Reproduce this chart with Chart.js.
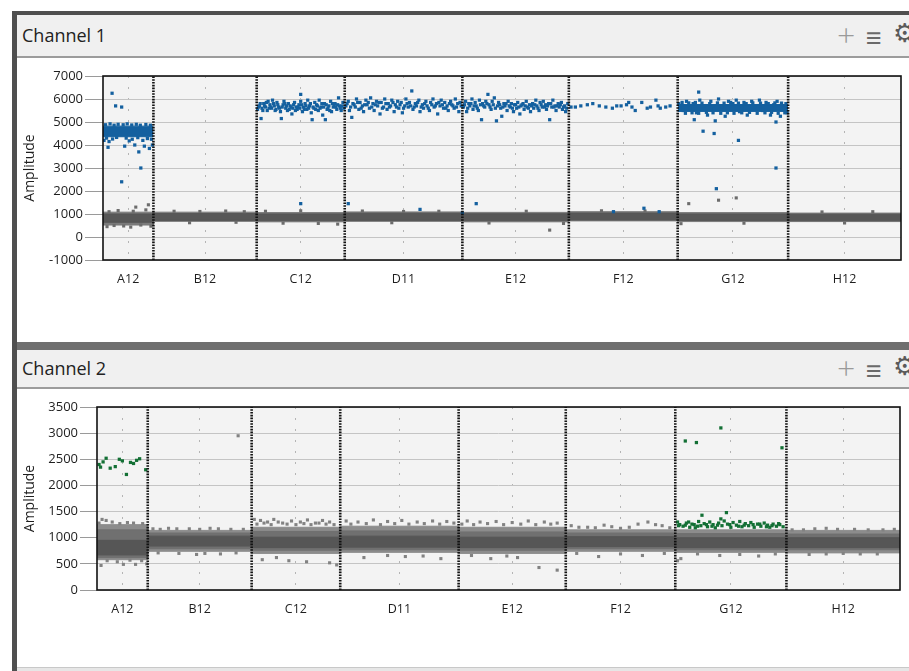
<!DOCTYPE html>
<html>
<head>
<meta charset="utf-8">
<script src="https://cdn.jsdelivr.net/npm/chart.js@4.4.1/dist/chart.umd.min.js"></script>
<style>
  body { margin: 0; width: 909px; height: 671px; overflow: hidden; background: #fff; position: relative; font-family: "Open Sans", sans-serif; }
  .frame-left { position: absolute; left: 12px; top: 11px; width: 5px; bottom: 0; background: #4f4f4f; }
  .frame-top { position: absolute; left: 12px; right: 0; top: 11px; height: 4px; background: #4f4f4f; }
  .head { position: absolute; left: 17px; right: 0; background: #f0f0f0; border-bottom: 2px solid #9c9c9c; }
  .head .t { position: absolute; left: 5px; font-size: 18px; color: #222; }
  .icon { position: absolute; color: #9a9a9a; }
  .sep { position: absolute; left: 17px; right: 0; top: 342px; height: 8px; background: #6f6f6f; }
  .foot { position: absolute; left: 17px; right: 0; top: 667px; height: 4px; background: #e6e6e6; border-top: 1px solid #c8c8c8; }
  canvas { position: absolute; }
</style>
</head>
<body>
<div class="frame-top"></div>
<div class="frame-left"></div>

<div class="head" style="top:15px;height:41px;">
  <span class="t" style="top:8px;">Channel 1</span>
  <span class="icon" style="left:820px;top:-2px;font-size:32px;font-weight:300;">+</span>
  <span class="icon" style="left:849px;top:3px;font-size:27px;color:#6a6a6a;">≡</span>
  <span class="icon" style="left:876px;top:3px;font-size:26px;color:#5a5a5a;font-family:'DejaVu Sans';">⚙</span>
</div>
<canvas id="ch1" width="891" height="282" style="left:18px;top:60px;"></canvas>

<div class="sep"></div>
<div class="head" style="top:350px;height:37px;">
  <span class="t" style="top:6px;">Channel 2</span>
  <span class="icon" style="left:820px;top:-4px;font-size:32px;font-weight:300;">+</span>
  <span class="icon" style="left:849px;top:1px;font-size:27px;color:#6a6a6a;">≡</span>
  <span class="icon" style="left:876px;top:1px;font-size:26px;color:#5a5a5a;font-family:'DejaVu Sans';">⚙</span>
</div>
<canvas id="ch2" width="891" height="277" style="left:18px;top:390px;"></canvas>
<div class="foot"></div>

<script>
// wells and how many droplets each one read (sets the width of each well on the x axis)
const wells = ["A12", "B12", "C12", "D11", "E12", "F12", "G12", "H12"];
const wellEvents = [6300, 12900, 11000, 14700, 13300, 13600, 13800, 14100];

// y axis ticks
const ch1YTicks = [-1000, 0, 1000, 2000, 3000, 4000, 5000, 6000, 7000];
const ch2YTicks = [0, 500, 1000, 1500, 2000, 2500, 3000, 3500];

// negative droplet clouds: amplitude range per well (outer fringe and dense core)
const ch1OuterLow = [520, 680, 660, 680, 660, 700, 670, 670];
const ch1OuterHigh = [1080, 1080, 1060, 1090, 1070, 1100, 1060, 1040];
const ch1CoreLow = [640, 720, 710, 720, 710, 740, 720, 710];
const ch1CoreHigh = [1000, 1020, 1000, 1030, 1010, 1040, 1000, 990];

const ch2OuterLow = [580, 740, 700, 720, 700, 740, 720, 710];
const ch2OuterHigh = [1250, 1140, 1200, 1220, 1200, 1150, 1150, 1140];
const ch2MidLow = [620, 790, 760, 770, 760, 790, 770, 770];
const ch2MidHigh = [1150, 1090, 1120, 1130, 1110, 1090, 1080, 1070];
const ch2CoreLow = [670, 840, 810, 820, 810, 830, 810, 810];
const ch2CoreHigh = [950, 1030, 1010, 1030, 1010, 1020, 1000, 1000];

// dense positive clouds in channel 1: [well, low, high]
const ch1PosBands = [[0, 4360, 4820], [6, 5460, 5760]];

// single droplets: [well, % along the well, amplitude]
const ch1Positive = [
  [0,18,6250],[0,25,5700],[0,37,5650],[0,37,2400],[0,75,3000],[0,10,3900],[0,43,3950],[0,63,4000],[0,71,3700],[0,92,3850],
  [0,2,4200],[0,98,4000],[0,82,3950],[0,5,4880],[0,14,4920],[0,22,4860],[0,30,4900],[0,40,4880],[0,48,4920],[0,57,4870],
  [0,66,4900],[0,74,4860],[0,85,4890],[0,94,4860],[0,7,4300],[0,19,4260],[0,27,4330],[0,46,4300],[0,58,4250],[0,69,4320],
  [0,88,4280],[0,96,4250],[0,12,4150],[0,52,4180],[0,79,4200],
  [2,1,5550],[2,3,5700],[2,5,5150],[2,6,5600],[2,8,5800],[2,10,5650],[2,12,5500],[2,13,5900],[2,15,5750],[2,17,5600],
  [2,18,5950],[2,20,5700],[2,22,5550],[2,23,5850],[2,25,5650],[2,27,5450],[2,28,5150],[2,30,5750],[2,31,5900],[2,33,5600],
  [2,35,5500],[2,36,5800],[2,38,5700],[2,40,5350],[2,41,5600],[2,43,5850],[2,45,5650],[2,46,5550],[2,48,5750],[2,50,6200],
  [2,50,5900],[2,52,5450],[2,53,5650],[2,55,5800],[2,57,5550],[2,58,5950],[2,60,5700],[2,62,5400],[2,63,5100],[2,65,5600],
  [2,66,5850],[2,68,5750],[2,70,5500],[2,71,5950],[2,73,5650],[2,75,5300],[2,77,5800],[2,78,5100],[2,80,5550],[2,82,5700],
  [2,84,5900],[2,85,5450],[2,87,5650],[2,89,5800],[2,91,5550],[2,93,6050],[2,94,5700],[2,96,5500],[2,98,5850],[2,99,5600],
  [2,2,5650],[2,4,5800],[2,7,5500],[2,9,5700],[2,11,5850],[2,14,5600],[2,16,5650],[2,19,5800],[2,21,5500],[2,24,5750],
  [2,26,5600],[2,29,5650],[2,32,5800],[2,34,5700],[2,37,5550],[2,39,5650],[2,42,5750],[2,44,5500],[2,47,5650],[2,49,5600],
  [2,51,5750],[2,54,5550],[2,56,5700],[2,59,5600],[2,61,5800],[2,64,5650],[2,67,5550],[2,69,5700],[2,72,5600],[2,74,5800],
  [2,76,5650],[2,79,5750],[2,81,5600],[2,83,5500],[2,86,5800],[2,88,5700],[2,90,5650],[2,92,5750],[2,95,5600],[2,97,5700],
  [2,50,1450],
  [3,1,5700],[3,3,5900],[3,4,5500],[3,6,5200],[3,7,5800],[3,9,5650],[3,10,6000],[3,12,5550],[3,13,5850],[3,15,5700],
  [3,16,5450],[3,18,5950],[3,19,5750],[3,21,5600],[3,22,6050],[3,24,5800],[3,25,5500],[3,27,5900],[3,28,5700],[3,30,5350],
  [3,31,5850],[3,33,5650],[3,34,6000],[3,36,5550],[3,37,5800],[3,39,5700],[3,40,5950],[3,42,5450],[3,43,5750],[3,45,5900],
  [3,46,5600],[3,48,5850],[3,49,5400],[3,51,5700],[3,52,6000],[3,54,5650],[3,55,5850],[3,57,6350],[3,58,5550],[3,60,5800],
  [3,61,5700],[3,63,5950],[3,64,5450],[3,66,5750],[3,67,5600],[3,69,5900],[3,70,5700],[3,72,5500],[3,73,5850],[3,75,6000],
  [3,76,5650],[3,78,5800],[3,79,5350],[3,81,5700],[3,82,5950],[3,84,5600],[3,85,5850],[3,87,5700],[3,88,5500],[3,90,5900],
  [3,91,5750],[3,93,5600],[3,94,6000],[3,96,5800],[3,97,5450],[3,99,5700],
  [3,2,5800],[3,5,5650],[3,8,5750],[3,11,5850],[3,14,5600],[3,17,5750],[3,20,5850],[3,23,5650],[3,26,5750],[3,29,5850],
  [3,32,5600],[3,35,5800],[3,38,5650],[3,41,5850],[3,44,5650],[3,47,5750],[3,50,5600],[3,53,5800],[3,56,5700],[3,59,5650],
  [3,62,5850],[3,65,5650],[3,68,5800],[3,71,5600],[3,74,5750],[3,77,5700],[3,80,5850],[3,83,5750],[3,86,5600],[3,89,5800],
  [3,92,5700],[3,95,5650],[3,98,5850],
  [3,3,1450],[3,64,1200],
  [4,1,5650],[4,3,5900],[4,4,5450],[4,6,5800],[4,7,5700],[4,9,6000],[4,10,5550],[4,12,5850],[4,13,5700],[4,15,5500],
  [4,16,5950],[4,18,5100],[4,19,5800],[4,21,5650],[4,22,5900],[4,24,6200],[4,25,5750],[4,27,5550],[4,28,5900],[4,30,6050],
  [4,32,5050],[4,33,5700],[4,34,5850],[4,36,5600],[4,37,5250],[4,39,5800],[4,40,5700],[4,42,5500],[4,43,5900],[4,45,5650],
  [4,46,5800],[4,48,5450],[4,49,5750],[4,51,5600],[4,52,5850],[4,54,5350],[4,55,5700],[4,57,5800],[4,58,5550],[4,60,5900],
  [4,61,5650],[4,63,5750],[4,64,5450],[4,66,5800],[4,67,5600],[4,69,5950],[4,70,5700],[4,72,5500],[4,73,5850],[4,75,5650],
  [4,76,5900],[4,78,5750],[4,79,5550],[4,81,5800],[4,82,5100],[4,84,5650],[4,85,5950],[4,87,5700],[4,88,5500],[4,90,5800],
  [4,91,5650],[4,93,5850],[4,94,5550],[4,96,5700],[4,97,5450],[4,99,5800],
  [4,2,5750],[4,5,5600],[4,8,5800],[4,11,5700],[4,14,5600],[4,17,5750],[4,20,5700],[4,23,5800],[4,26,5650],[4,29,5750],
  [4,31,5600],[4,35,5750],[4,38,5650],[4,41,5800],[4,44,5700],[4,47,5600],[4,50,5750],[4,53,5650],[4,56,5750],[4,59,5700],
  [4,62,5600],[4,65,5700],[4,68,5750],[4,71,5600],[4,74,5750],[4,77,5650],[4,80,5700],[4,83,5800],[4,86,5650],[4,89,5700],
  [4,92,5750],[4,95,5650],[4,98,5600],
  [4,13,1450],[4,0,1050],
  [5,2,5650],[5,6,5650],[5,11,5700],[5,17,5750],[5,22,5800],[5,28,5700],[5,34,5650],[5,40,5600],[5,44,5700],[5,48,5700],
  [5,53,5750],[5,55,5850],[5,58,5650],[5,61,5500],[5,67,5850],[5,72,5600],[5,75,5650],[5,80,5950],[5,82,5700],[5,84,5600],
  [5,89,5650],[5,93,5700],[5,41,1100],[5,69,1250],[5,83,1100],
  [6,19,6300],[6,23,4600],[6,33,4500],[6,55,4200],[6,89,3000],[6,35,2100],[6,15,5100],[6,34,5050],[6,89,5000],[6,2,5700],
  [6,5,5500],[6,8,5900],[6,11,5600],[6,14,5800],[6,17,5400],[6,20,5950],[6,24,5700],[6,27,5300],[6,30,5900],[6,33,5550],
  [6,37,6000],[6,40,5650],[6,43,5250],[6,46,5900],[6,50,5800],[6,53,5950],[6,56,5450],[6,60,5850],[6,63,5300],[6,67,5900],
  [6,70,5650],[6,74,5950],[6,77,5500],[6,80,5850],[6,84,5300],[6,87,5750],[6,90,5900],[6,93,5250],[6,96,5600],[6,99,5400],
  [6,1,5800],[6,4,5850],[6,7,5380],[6,10,5830],[6,13,5400],[6,16,5850],[6,19,5380],[6,22,5820],[6,26,5420],[6,29,5800],
  [6,32,5400],[6,36,5830],[6,39,5380],[6,42,5820],[6,45,5400],[6,48,5850],[6,51,5380],[6,55,5820],[6,58,5400],[6,62,5800],
  [6,65,5420],[6,68,5830],[6,72,5380],[6,75,5820],[6,79,5400],[6,82,5800],[6,85,5420],[6,88,5830],[6,91,5380],[6,94,5820],
  [6,97,5400],[6,98,5800]
];

const ch1Negative = [
  [0,65,1300],[0,90,1400],[0,8,450],[0,22,500],[0,41,480],[0,55,430],[0,75,520],[0,95,470],[0,30,1150],[0,12,1100],[0,60,1120],[0,85,1180],
  [1,20,1120],[1,45,1110],[1,70,1130],[1,88,1100],[1,35,620],[1,80,640],
  [2,10,1120],[2,50,1140],[2,30,600],[2,70,590],[2,92,560],
  [3,15,1130],[3,50,1110],[3,80,1120],[3,40,620],
  [4,82,300],[4,25,610],[4,60,1120],[4,95,590],
  [5,30,1140],[5,70,1130],
  [6,10,1450],[6,37,1600],[6,53,1700],[6,3,580],[6,60,600],
  [7,30,1090],[7,75,1100],[7,50,610]
];

const ch2Positive = [
  [0,4,2400],[0,7,2350],[0,12,2450],[0,18,2520],[0,26,2330],[0,36,2360],[0,44,2500],[0,50,2470],[0,58,2210],[0,66,2440],
  [0,72,2420],[0,78,2480],[0,84,2510],[0,96,2300],
  [6,9,2850],[6,19,2820],[6,41,3100],[6,96,2720],[6,24,1430],[6,46,1480],[6,41,1360],
  [6,2,1300],[6,4,1250],[6,7,1220],[6,10,1280],[6,13,1200],[6,15,1260],[6,18,1190],[6,21,1310],[6,23,1230],[6,26,1270],
  [6,29,1210],[6,31,1300],[6,34,1250],[6,36,1190],[6,39,1280],[6,42,1230],[6,44,1320],[6,47,1260],[6,50,1200],[6,52,1290],
  [6,55,1240],[6,58,1310],[6,60,1210],[6,63,1270],[6,66,1230],[6,68,1290],[6,71,1200],[6,74,1260],[6,77,1220],[6,80,1280],
  [6,83,1240],[6,85,1200],[6,88,1260],[6,91,1220],[6,94,1250],[6,97,1210],
  [6,3,1230],[6,9,1240],[6,12,1300],[6,17,1250],[6,20,1220],[6,28,1250],[6,33,1220],[6,38,1240],[6,49,1250],[6,57,1220],
  [6,62,1240],[6,70,1250],[6,76,1260],[6,82,1210],[6,87,1230],[6,93,1270]
];

const ch2Negative = [
  [0,10,1350],[0,18,1330],[0,8,470],[0,52,490],[0,76,490],[0,98,500],[0,30,1300],[0,60,1290],[0,90,1270],[0,40,540],
  [0,4,1280],[0,45,1270],[0,72,1280],[0,20,560],[0,65,570],[0,88,560],
  [1,87,2950],[1,47,680],[1,20,1180],[1,40,1170],[1,60,1180],[1,80,1160],[1,30,700],[1,70,690],
  [1,5,1170],[1,12,1160],[1,28,1170],[1,50,1160],[1,68,1170],[1,92,1160],[1,10,710],[1,55,700],[1,85,710],
  [2,3,1350],[2,10,1330],[2,18,1300],[2,25,1350],[2,35,1280],[2,45,1320],[2,55,1300],[2,63,1340],[2,72,1280],[2,80,1330],
  [2,88,1300],[2,12,580],[2,28,620],[2,42,560],[2,62,540],[2,88,520],[2,96,480],
  [2,6,1260],[2,14,1280],[2,22,1250],[2,30,1300],[2,40,1260],[2,50,1250],[2,59,1270],[2,67,1250],[2,76,1280],[2,84,1260],[2,93,1250],
  [3,5,1320],[3,15,1300],[3,28,1340],[3,40,1310],[3,52,1330],[3,65,1300],[3,78,1320],[3,90,1310],[3,20,620],[3,55,640],[3,85,600],
  [3,9,1260],[3,22,1270],[3,34,1250],[3,46,1270],[3,58,1260],[3,71,1270],[3,84,1260],[3,96,1280],[3,40,660],[3,70,650],
  [4,8,1320],[4,20,1300],[4,35,1310],[4,50,1290],[4,65,1320],[4,80,1300],[4,92,1280],[4,75,430],[4,92,380],[4,30,600],[4,55,620],
  [4,3,1260],[4,14,1250],[4,27,1270],[4,42,1250],[4,58,1260],[4,72,1250],[4,86,1260],[4,12,660],[4,45,650],
  [5,5,1230],[5,12,1200],[5,20,1200],[5,35,1240],[5,42,1210],[5,50,1180],[5,66,1260],[5,75,1300],[5,82,1250],[5,88,1230],[5,30,640],[5,70,660],
  [5,27,1190],[5,58,1200],[5,95,1190],[5,10,700],[5,50,690],[5,90,700],
  [6,2,560],[6,5,600],[6,40,660],[6,75,650],[6,20,690],[6,58,680],[6,90,690],
  [7,5,1150],[7,25,1170],[7,35,1180],[7,60,1160],[7,85,1150],[7,20,680],[7,50,700],[7,80,690],
  [7,15,1150],[7,45,1160],[7,72,1150],[7,95,1160],[7,35,690],[7,65,690]
];

const wellStart = [];
let total = 0;
wellEvents.forEach((n) => { wellStart.push(total); total += n; });
const wellCenter = wellEvents.map((n, i) => wellStart[i] + n / 2);

const toXY = (list) => list.map(([w, p, a]) => ({ x: wellStart[w] + (p / 100) * wellEvents[w], y: a }));

function addBand(ds, idxs, lows, highs, color, order) {
  const lo = [], hi = [];
  idxs.forEach((w, k) => {
    const s = wellStart[w], e = s + wellEvents[w];
    lo.push({ x: s, y: lows[k] }, { x: e, y: lows[k] });
    hi.push({ x: s, y: highs[k] }, { x: e, y: highs[k] });
  });
  const i = ds.length;
  ds.push({ data: lo, showLine: true, pointRadius: 0, borderWidth: 1, borderColor: color, fill: false, order: order });
  ds.push({ data: hi, showLine: true, pointRadius: 0, borderWidth: 1, borderColor: color, backgroundColor: color, fill: i, order: order });
}

function dots(list, color, order, r) {
  return { data: toXY(list), pointStyle: "rect", pointRadius: r, borderWidth: 0, backgroundColor: color, order: order };
}

const plotFrame = {
  id: "plotFrame",
  beforeDraw(chart) {
    const a = chart.chartArea, ctx = chart.ctx;
    ctx.save();
    ctx.fillStyle = "#f3f3f3";
    ctx.fillRect(a.left, a.top, a.right - a.left, a.bottom - a.top);
    ctx.restore();
  },
  afterDraw(chart) {
    const a = chart.chartArea, ctx = chart.ctx;
    ctx.save();
    ctx.strokeStyle = "#111";
    ctx.lineWidth = 1.6;
    ctx.strokeRect(a.left, a.top, a.right - a.left, a.bottom - a.top);
    ctx.restore();
  },
};

function drawChannel(id, o) {
  const ds = [];
  const all = wells.map((w, i) => i);
  addBand(ds, all, o.outerLow, o.outerHigh, o.outerColor, 10);
  if (o.midLow) addBand(ds, all, o.midLow, o.midHigh, o.midColor, 9);
  addBand(ds, all, o.coreLow, o.coreHigh, o.coreColor, 8);
  (o.posBands || []).forEach(([w, lo, hi]) => addBand(ds, [w], [lo], [hi], o.posColor, 4));
  ds.push(dots(o.negative, o.negColor, 6, 2.2));
  ds.push(dots(o.positive, o.posColor, 2, 2.3));
  const yMin = o.yTicks[0], yMax = o.yTicks[o.yTicks.length - 1];
  for (let i = 1; i < wells.length; i++) {
    ds.push({
      data: [{ x: wellStart[i], y: yMin }, { x: wellStart[i], y: yMax }],
      showLine: true, pointRadius: 0, borderColor: "#111", borderWidth: 2.6, borderDash: [1.6, 1.2], order: 0,
    });
  }

  new Chart(document.getElementById(id), {
    type: "scatter",
    data: { datasets: ds },
    plugins: [plotFrame],
    options: {
      responsive: false,
      animation: false,
      events: [],
      layout: { padding: { top: o.top, right: o.right, bottom: o.bottom, left: 0 } },
      plugins: { legend: { display: false }, tooltip: { enabled: false } },
      scales: {
        x: {
          type: "linear", min: 0, max: total,
          afterBuildTicks: (s) => { s.ticks = wellCenter.map((v) => ({ value: v })); },
          afterFit: (s) => { s.height = 40; },
          ticks: { autoSkip: false, maxRotation: 0, padding: 12, color: "#1e1e1e", font: { family: "Open Sans", size: 12.5 }, callback: (v, i) => wells[i] },
          grid: { color: "#b4b4b4", drawTicks: false, lineWidth: 1 },
          border: { display: false, dash: [2, 9] },
        },
        y: {
          min: yMin, max: yMax,
          afterBuildTicks: (s) => { s.ticks = o.yTicks.map((v) => ({ value: v })); },
          afterFit: (s) => { s.width = o.yWidth; },
          ticks: { padding: 2, color: "#1e1e1e", font: { family: "Open Sans", size: 13 }, callback: (v) => String(v) },
          grid: { color: "#c4c4c4", tickColor: "#9a9a9a", tickLength: o.tickLen },
          border: { display: false },
          title: { display: true, text: "Amplitude", color: "#1e1e1e", font: { family: "Open Sans", size: 14 } },
        },
      },
    },
  });
}

drawChannel("ch1", {
  yTicks: ch1YTicks, yWidth: 85, tickLen: 18, top: 16, right: 8, bottom: 42,
  outerLow: ch1OuterLow, outerHigh: ch1OuterHigh, coreLow: ch1CoreLow, coreHigh: ch1CoreHigh,
  outerColor: "#7a7a7a", coreColor: "#575757", negColor: "#6c6c6c",
  posBands: ch1PosBands, posColor: "#14609f",
  positive: ch1Positive, negative: ch1Negative,
});

drawChannel("ch2", {
  yTicks: ch2YTicks, yWidth: 79, tickLen: 17, top: 17, right: 9, bottom: 37,
  outerLow: ch2OuterLow, outerHigh: ch2OuterHigh, midLow: ch2MidLow, midHigh: ch2MidHigh,
  coreLow: ch2CoreLow, coreHigh: ch2CoreHigh,
  outerColor: "#8c8c8c", midColor: "#707070", coreColor: "#565656", negColor: "#828282",
  posColor: "#137035",
  positive: ch2Positive, negative: ch2Negative,
});
</script>
</body>
</html>
